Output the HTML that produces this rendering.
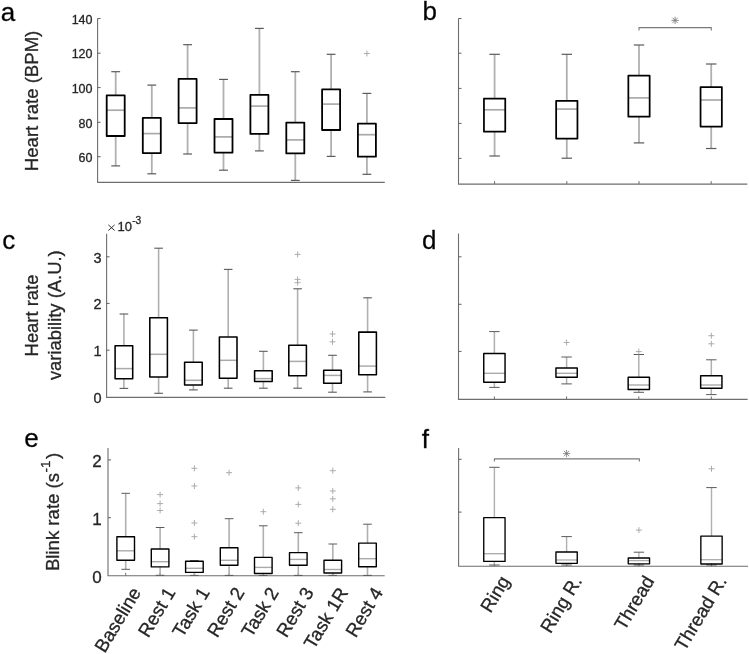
<!DOCTYPE html>
<html><head><meta charset="utf-8"><style>
html,body{margin:0;padding:0;background:#fff;}
svg{display:block;font-family:"Liberation Sans", sans-serif;will-change:transform;}
text{stroke:#262626;stroke-width:0.3px;}
</style></head><body>
<svg width="749" height="654" viewBox="0 0 749 654">
<rect width="749" height="654" fill="#fff"/>
<path d="M97.6 18.5 V182.4 H384.8" fill="none" stroke="#6e6e6e" stroke-width="1.1"/>
<path d="M97.6 18.5 H100.6" stroke="#606060" stroke-width="1"/>
<path d="M97.6 53.2 H100.6" stroke="#606060" stroke-width="1"/>
<path d="M97.6 87.6 H100.6" stroke="#606060" stroke-width="1"/>
<path d="M97.6 122.3 H100.6" stroke="#606060" stroke-width="1"/>
<path d="M97.6 156.7 H100.6" stroke="#606060" stroke-width="1"/>
<text x="92.5" y="23.75" font-size="12.5" text-anchor="end" fill="#262626">140</text>
<text x="92.5" y="58.45" font-size="12.5" text-anchor="end" fill="#262626">120</text>
<text x="92.5" y="92.85" font-size="12.5" text-anchor="end" fill="#262626">100</text>
<text x="92.5" y="127.55" font-size="12.5" text-anchor="end" fill="#262626">80</text>
<text x="92.5" y="161.95" font-size="12.5" text-anchor="end" fill="#262626">60</text>
<path d="M115.7 71.7 V95.3" stroke="#b0b0b0" stroke-width="1.8"/>
<path d="M111.29 71.7 H120.11" stroke="#5a5a5a" stroke-width="1.2"/>
<path d="M115.7 136 V165.9" stroke="#b0b0b0" stroke-width="1.8"/>
<path d="M111.29 165.9 H120.11" stroke="#5a5a5a" stroke-width="1.2"/>
<path d="M106.7 110.2 H124.7" stroke="#aaaaaa" stroke-width="1.7"/>
<rect x="106.7" y="95.3" width="18" height="40.7" fill="none" stroke="#000000" stroke-width="1.8" stroke-linejoin="round"/>
<path d="M151.8 85.1 V117.9" stroke="#b0b0b0" stroke-width="1.8"/>
<path d="M147.39 85.1 H156.21" stroke="#5a5a5a" stroke-width="1.2"/>
<path d="M151.8 153.1 V173.8" stroke="#b0b0b0" stroke-width="1.8"/>
<path d="M147.39 173.8 H156.21" stroke="#5a5a5a" stroke-width="1.2"/>
<path d="M142.8 133.6 H160.8" stroke="#aaaaaa" stroke-width="1.7"/>
<rect x="142.8" y="117.9" width="18" height="35.2" fill="none" stroke="#000000" stroke-width="1.8" stroke-linejoin="round"/>
<path d="M187.6 44.7 V78.9" stroke="#b0b0b0" stroke-width="1.8"/>
<path d="M183.19 44.7 H192.01" stroke="#5a5a5a" stroke-width="1.2"/>
<path d="M187.6 123.1 V154" stroke="#b0b0b0" stroke-width="1.8"/>
<path d="M183.19 154 H192.01" stroke="#5a5a5a" stroke-width="1.2"/>
<path d="M178.6 107.9 H196.6" stroke="#aaaaaa" stroke-width="1.7"/>
<rect x="178.6" y="78.9" width="18" height="44.2" fill="none" stroke="#000000" stroke-width="1.8" stroke-linejoin="round"/>
<path d="M223.5 79.4 V119" stroke="#b0b0b0" stroke-width="1.8"/>
<path d="M219.09 79.4 H227.91" stroke="#5a5a5a" stroke-width="1.2"/>
<path d="M223.5 152.6 V170.2" stroke="#b0b0b0" stroke-width="1.8"/>
<path d="M219.09 170.2 H227.91" stroke="#5a5a5a" stroke-width="1.2"/>
<path d="M214.5 136.9 H232.5" stroke="#aaaaaa" stroke-width="1.7"/>
<rect x="214.5" y="119" width="18" height="33.6" fill="none" stroke="#000000" stroke-width="1.8" stroke-linejoin="round"/>
<path d="M259.4 28.4 V94.9" stroke="#b0b0b0" stroke-width="1.8"/>
<path d="M254.99 28.4 H263.81" stroke="#5a5a5a" stroke-width="1.2"/>
<path d="M259.4 133.9 V150.9" stroke="#b0b0b0" stroke-width="1.8"/>
<path d="M254.99 150.9 H263.81" stroke="#5a5a5a" stroke-width="1.2"/>
<path d="M250.4 106.1 H268.4" stroke="#aaaaaa" stroke-width="1.7"/>
<rect x="250.4" y="94.9" width="18" height="39" fill="none" stroke="#000000" stroke-width="1.8" stroke-linejoin="round"/>
<path d="M295.3 71.7 V122.6" stroke="#b0b0b0" stroke-width="1.8"/>
<path d="M290.89 71.7 H299.71" stroke="#5a5a5a" stroke-width="1.2"/>
<path d="M295.3 153.4 V180.4" stroke="#b0b0b0" stroke-width="1.8"/>
<path d="M290.89 180.4 H299.71" stroke="#5a5a5a" stroke-width="1.2"/>
<path d="M286.3 139.9 H304.3" stroke="#aaaaaa" stroke-width="1.7"/>
<rect x="286.3" y="122.6" width="18" height="30.8" fill="none" stroke="#000000" stroke-width="1.8" stroke-linejoin="round"/>
<path d="M331.1 54.3 V89.3" stroke="#b0b0b0" stroke-width="1.8"/>
<path d="M326.69 54.3 H335.51" stroke="#5a5a5a" stroke-width="1.2"/>
<path d="M331.1 130 V156.4" stroke="#b0b0b0" stroke-width="1.8"/>
<path d="M326.69 156.4 H335.51" stroke="#5a5a5a" stroke-width="1.2"/>
<path d="M322.1 104.1 H340.1" stroke="#aaaaaa" stroke-width="1.7"/>
<rect x="322.1" y="89.3" width="18" height="40.7" fill="none" stroke="#000000" stroke-width="1.8" stroke-linejoin="round"/>
<path d="M366.9 93.4 V123.7" stroke="#b0b0b0" stroke-width="1.8"/>
<path d="M362.49 93.4 H371.31" stroke="#5a5a5a" stroke-width="1.2"/>
<path d="M366.9 156.7 V174.3" stroke="#b0b0b0" stroke-width="1.8"/>
<path d="M362.49 174.3 H371.31" stroke="#5a5a5a" stroke-width="1.2"/>
<path d="M357.9 134.7 H375.9" stroke="#aaaaaa" stroke-width="1.7"/>
<rect x="357.9" y="123.7" width="18" height="33" fill="none" stroke="#000000" stroke-width="1.8" stroke-linejoin="round"/>
<path d="M363.9 53.5 H369.9 M366.9 50.5 V56.5" stroke="#a4a4a4" stroke-width="0.9"/>
<path d="M458.5 18.5 V184.1 H747.3" fill="none" stroke="#6e6e6e" stroke-width="1.1"/>
<path d="M458.5 18.5 H461.5" stroke="#606060" stroke-width="1"/>
<path d="M458.5 53.2 H461.5" stroke="#606060" stroke-width="1"/>
<path d="M458.5 88.4 H461.5" stroke="#606060" stroke-width="1"/>
<path d="M458.5 123.4 H461.5" stroke="#606060" stroke-width="1"/>
<path d="M458.5 158.4 H461.5" stroke="#606060" stroke-width="1"/>
<path d="M494.6 184.1 V181.1" stroke="#6e6e6e" stroke-width="1"/>
<path d="M494.6 54.3 V98.5" stroke="#b0b0b0" stroke-width="1.8"/>
<path d="M489.38 54.3 H499.82" stroke="#5a5a5a" stroke-width="1.2"/>
<path d="M494.6 131.7 V156" stroke="#b0b0b0" stroke-width="1.8"/>
<path d="M489.38 156 H499.82" stroke="#5a5a5a" stroke-width="1.2"/>
<path d="M483.95 109.8 H505.25" stroke="#aaaaaa" stroke-width="1.7"/>
<rect x="483.95" y="98.5" width="21.3" height="33.2" fill="none" stroke="#000000" stroke-width="1.75" stroke-linejoin="round"/>
<path d="M566.8 184.1 V181.1" stroke="#6e6e6e" stroke-width="1"/>
<path d="M566.8 54.3 V100.8" stroke="#b0b0b0" stroke-width="1.8"/>
<path d="M561.58 54.3 H572.02" stroke="#5a5a5a" stroke-width="1.2"/>
<path d="M566.8 138.5 V158.2" stroke="#b0b0b0" stroke-width="1.8"/>
<path d="M561.58 158.2 H572.02" stroke="#5a5a5a" stroke-width="1.2"/>
<path d="M556.15 109.1 H577.45" stroke="#aaaaaa" stroke-width="1.7"/>
<rect x="556.15" y="100.8" width="21.3" height="37.7" fill="none" stroke="#000000" stroke-width="1.75" stroke-linejoin="round"/>
<path d="M639 184.1 V181.1" stroke="#6e6e6e" stroke-width="1"/>
<path d="M639 45 V75.5" stroke="#b0b0b0" stroke-width="1.8"/>
<path d="M633.78 45 H644.22" stroke="#5a5a5a" stroke-width="1.2"/>
<path d="M639 116.7 V142.9" stroke="#b0b0b0" stroke-width="1.8"/>
<path d="M633.78 142.9 H644.22" stroke="#5a5a5a" stroke-width="1.2"/>
<path d="M628.35 97.9 H649.65" stroke="#aaaaaa" stroke-width="1.7"/>
<rect x="628.35" y="75.5" width="21.3" height="41.2" fill="none" stroke="#000000" stroke-width="1.75" stroke-linejoin="round"/>
<path d="M711.2 184.1 V181.1" stroke="#6e6e6e" stroke-width="1"/>
<path d="M711.2 64 V87.1" stroke="#b0b0b0" stroke-width="1.8"/>
<path d="M705.98 64 H716.42" stroke="#5a5a5a" stroke-width="1.2"/>
<path d="M711.2 126.6 V148.5" stroke="#b0b0b0" stroke-width="1.8"/>
<path d="M705.98 148.5 H716.42" stroke="#5a5a5a" stroke-width="1.2"/>
<path d="M700.55 100 H721.85" stroke="#aaaaaa" stroke-width="1.7"/>
<rect x="700.55" y="87.1" width="21.3" height="39.5" fill="none" stroke="#000000" stroke-width="1.75" stroke-linejoin="round"/>
<path d="M639 30.6 V27.6 H711.3 V30.6" fill="none" stroke="#7a7a7a" stroke-width="1.1" stroke-linejoin="round"/>
<path d="M671.4 20.4 H678.8 M675.1 16.7 V24.1 M672.4 17.7 L677.8 23.1 M672.4 23.1 L677.8 17.7" stroke="#7a7a7a" stroke-width="0.85"/>
<path d="M106.6 233.7 V397.4 H385.3" fill="none" stroke="#6e6e6e" stroke-width="1.1"/>
<path d="M106.6 256.8 H109.6" stroke="#606060" stroke-width="1"/>
<path d="M106.6 303.4 H109.6" stroke="#606060" stroke-width="1"/>
<path d="M106.6 350.2 H109.6" stroke="#606060" stroke-width="1"/>
<text x="101.5" y="262.89" font-size="14.5" text-anchor="end" fill="#262626">3</text>
<text x="101.5" y="309.49" font-size="14.5" text-anchor="end" fill="#262626">2</text>
<text x="101.5" y="356.29" font-size="14.5" text-anchor="end" fill="#262626">1</text>
<text x="101.5" y="402.89" font-size="14.5" text-anchor="end" fill="#262626">0</text>
<path d="M123.9 314 V345.7" stroke="#b0b0b0" stroke-width="1.6"/>
<path d="M119.59 314 H128.21" stroke="#5a5a5a" stroke-width="1.1"/>
<path d="M123.9 378.8 V388.4" stroke="#b0b0b0" stroke-width="1.6"/>
<path d="M119.59 388.4 H128.21" stroke="#5a5a5a" stroke-width="1.1"/>
<path d="M115.1 368.6 H132.7" stroke="#aaaaaa" stroke-width="1.5"/>
<rect x="115.1" y="345.7" width="17.6" height="33.1" fill="none" stroke="#000000" stroke-width="1.55" stroke-linejoin="round"/>
<path d="M158.6 248.2 V317.8" stroke="#b0b0b0" stroke-width="1.6"/>
<path d="M154.29 248.2 H162.91" stroke="#5a5a5a" stroke-width="1.1"/>
<path d="M158.6 376.9 V393.3" stroke="#b0b0b0" stroke-width="1.6"/>
<path d="M154.29 393.3 H162.91" stroke="#5a5a5a" stroke-width="1.1"/>
<path d="M149.8 354.3 H167.4" stroke="#aaaaaa" stroke-width="1.5"/>
<rect x="149.8" y="317.8" width="17.6" height="59.1" fill="none" stroke="#000000" stroke-width="1.55" stroke-linejoin="round"/>
<path d="M193.4 330.1 V362.3" stroke="#b0b0b0" stroke-width="1.6"/>
<path d="M189.09 330.1 H197.71" stroke="#5a5a5a" stroke-width="1.1"/>
<path d="M193.4 385 V389.9" stroke="#b0b0b0" stroke-width="1.6"/>
<path d="M189.09 389.9 H197.71" stroke="#5a5a5a" stroke-width="1.1"/>
<path d="M184.6 380.3 H202.2" stroke="#aaaaaa" stroke-width="1.5"/>
<rect x="184.6" y="362.3" width="17.6" height="22.7" fill="none" stroke="#000000" stroke-width="1.55" stroke-linejoin="round"/>
<path d="M228.2 269.4 V337" stroke="#b0b0b0" stroke-width="1.6"/>
<path d="M223.89 269.4 H232.51" stroke="#5a5a5a" stroke-width="1.1"/>
<path d="M228.2 378.3 V388.2" stroke="#b0b0b0" stroke-width="1.6"/>
<path d="M223.89 388.2 H232.51" stroke="#5a5a5a" stroke-width="1.1"/>
<path d="M219.4 360.3 H237" stroke="#aaaaaa" stroke-width="1.5"/>
<rect x="219.4" y="337" width="17.6" height="41.3" fill="none" stroke="#000000" stroke-width="1.55" stroke-linejoin="round"/>
<path d="M263.4 351.3 V370.7" stroke="#b0b0b0" stroke-width="1.6"/>
<path d="M259.09 351.3 H267.71" stroke="#5a5a5a" stroke-width="1.1"/>
<path d="M263.4 381.5 V388.2" stroke="#b0b0b0" stroke-width="1.6"/>
<path d="M259.09 388.2 H267.71" stroke="#5a5a5a" stroke-width="1.1"/>
<path d="M254.6 378.6 H272.2" stroke="#aaaaaa" stroke-width="1.5"/>
<rect x="254.6" y="370.7" width="17.6" height="10.8" fill="none" stroke="#000000" stroke-width="1.55" stroke-linejoin="round"/>
<path d="M297.6 288.8 V345.2" stroke="#b0b0b0" stroke-width="1.6"/>
<path d="M293.29 288.8 H301.91" stroke="#5a5a5a" stroke-width="1.1"/>
<path d="M297.6 375.7 V388.2" stroke="#b0b0b0" stroke-width="1.6"/>
<path d="M293.29 388.2 H301.91" stroke="#5a5a5a" stroke-width="1.1"/>
<path d="M288.8 361.4 H306.4" stroke="#aaaaaa" stroke-width="1.5"/>
<rect x="288.8" y="345.2" width="17.6" height="30.5" fill="none" stroke="#000000" stroke-width="1.55" stroke-linejoin="round"/>
<path d="M294.6 254.4 H300.6 M297.6 251.4 V257.4" stroke="#a4a4a4" stroke-width="0.9"/>
<path d="M294.6 279.4 H300.6 M297.6 276.4 V282.4" stroke="#a4a4a4" stroke-width="0.9"/>
<path d="M294.6 282.7 H300.6 M297.6 279.7 V285.7" stroke="#a4a4a4" stroke-width="0.9"/>
<path d="M332.5 355.3 V370.2" stroke="#b0b0b0" stroke-width="1.6"/>
<path d="M328.19 355.3 H336.81" stroke="#5a5a5a" stroke-width="1.1"/>
<path d="M332.5 383.2 V392.2" stroke="#b0b0b0" stroke-width="1.6"/>
<path d="M328.19 392.2 H336.81" stroke="#5a5a5a" stroke-width="1.1"/>
<path d="M323.7 375.4 H341.3" stroke="#aaaaaa" stroke-width="1.5"/>
<rect x="323.7" y="370.2" width="17.6" height="13" fill="none" stroke="#000000" stroke-width="1.55" stroke-linejoin="round"/>
<path d="M329.5 334 H335.5 M332.5 331 V337" stroke="#a4a4a4" stroke-width="0.9"/>
<path d="M329.5 341.8 H335.5 M332.5 338.8 V344.8" stroke="#a4a4a4" stroke-width="0.9"/>
<path d="M367.6 297.8 V332.1" stroke="#b0b0b0" stroke-width="1.6"/>
<path d="M363.29 297.8 H371.91" stroke="#5a5a5a" stroke-width="1.1"/>
<path d="M367.6 374.8 V391.9" stroke="#b0b0b0" stroke-width="1.6"/>
<path d="M363.29 391.9 H371.91" stroke="#5a5a5a" stroke-width="1.1"/>
<path d="M358.8 366.1 H376.4" stroke="#aaaaaa" stroke-width="1.5"/>
<rect x="358.8" y="332.1" width="17.6" height="42.7" fill="none" stroke="#000000" stroke-width="1.55" stroke-linejoin="round"/>
<path d="M458.5 233.4 V399.4 H747.6" fill="none" stroke="#6e6e6e" stroke-width="1.1"/>
<path d="M458.5 256.8 H461.5" stroke="#606060" stroke-width="1"/>
<path d="M458.5 304.3 H461.5" stroke="#606060" stroke-width="1"/>
<path d="M458.5 351.4 H461.5" stroke="#606060" stroke-width="1"/>
<path d="M494.4 399.4 V396.4" stroke="#6e6e6e" stroke-width="1"/>
<path d="M494.4 331.6 V353.4" stroke="#b0b0b0" stroke-width="1.5"/>
<path d="M489.18 331.6 H499.62" stroke="#5a5a5a" stroke-width="1.0"/>
<path d="M494.4 382.3 V387.4" stroke="#b0b0b0" stroke-width="1.5"/>
<path d="M489.18 387.4 H499.62" stroke="#5a5a5a" stroke-width="1.0"/>
<path d="M483.75 373.3 H505.05" stroke="#aaaaaa" stroke-width="1.4"/>
<rect x="483.75" y="353.4" width="21.3" height="28.9" fill="none" stroke="#000000" stroke-width="1.45" stroke-linejoin="round"/>
<path d="M566.6 399.4 V396.4" stroke="#6e6e6e" stroke-width="1"/>
<path d="M566.6 357 V367.9" stroke="#b0b0b0" stroke-width="1.5"/>
<path d="M561.38 357 H571.82" stroke="#5a5a5a" stroke-width="1.0"/>
<path d="M566.6 377.2 V383.9" stroke="#b0b0b0" stroke-width="1.5"/>
<path d="M561.38 383.9 H571.82" stroke="#5a5a5a" stroke-width="1.0"/>
<path d="M555.95 373.3 H577.25" stroke="#aaaaaa" stroke-width="1.4"/>
<rect x="555.95" y="367.9" width="21.3" height="9.3" fill="none" stroke="#000000" stroke-width="1.45" stroke-linejoin="round"/>
<path d="M563.6 342.5 H569.6 M566.6 339.5 V345.5" stroke="#a4a4a4" stroke-width="0.9"/>
<path d="M638.8 399.4 V396.4" stroke="#6e6e6e" stroke-width="1"/>
<path d="M638.8 354.5 V377.2" stroke="#b0b0b0" stroke-width="1.5"/>
<path d="M633.58 354.5 H644.02" stroke="#5a5a5a" stroke-width="1.0"/>
<path d="M638.8 389.4 V392.3" stroke="#b0b0b0" stroke-width="1.5"/>
<path d="M633.58 392.3 H644.02" stroke="#5a5a5a" stroke-width="1.0"/>
<path d="M628.15 385 H649.45" stroke="#aaaaaa" stroke-width="1.4"/>
<rect x="628.15" y="377.2" width="21.3" height="12.2" fill="none" stroke="#000000" stroke-width="1.45" stroke-linejoin="round"/>
<path d="M635.8 351.6 H641.8 M638.8 348.6 V354.6" stroke="#a4a4a4" stroke-width="0.9"/>
<path d="M711.3 399.4 V396.4" stroke="#6e6e6e" stroke-width="1"/>
<path d="M711.3 359.8 V375.7" stroke="#b0b0b0" stroke-width="1.5"/>
<path d="M706.08 359.8 H716.52" stroke="#5a5a5a" stroke-width="1.0"/>
<path d="M711.3 388.2 V394.6" stroke="#b0b0b0" stroke-width="1.5"/>
<path d="M706.08 394.6 H716.52" stroke="#5a5a5a" stroke-width="1.0"/>
<path d="M700.65 385 H721.95" stroke="#aaaaaa" stroke-width="1.4"/>
<rect x="700.65" y="375.7" width="21.3" height="12.5" fill="none" stroke="#000000" stroke-width="1.45" stroke-linejoin="round"/>
<path d="M708.3 335.7 H714.3 M711.3 332.7 V338.7" stroke="#a4a4a4" stroke-width="0.9"/>
<path d="M708.3 343.8 H714.3 M711.3 340.8 V346.8" stroke="#a4a4a4" stroke-width="0.9"/>
<path d="M108 448.1 V575.8 H384.7" fill="none" stroke="#6e6e6e" stroke-width="1.1"/>
<path d="M108 459.9 H111" stroke="#606060" stroke-width="1"/>
<path d="M108 517.7 H111" stroke="#606060" stroke-width="1"/>
<text x="101.7" y="467.04" font-size="17" text-anchor="end" fill="#262626">2</text>
<text x="101.7" y="524.84" font-size="17" text-anchor="end" fill="#262626">1</text>
<text x="101.7" y="582.54" font-size="17" text-anchor="end" fill="#262626">0</text>
<path d="M125.7 575.8 V572.8" stroke="#6e6e6e" stroke-width="1"/>
<path d="M125.7 493.3 V536.7" stroke="#b0b0b0" stroke-width="1.6"/>
<path d="M121.39 493.3 H130.01" stroke="#5a5a5a" stroke-width="1.0"/>
<path d="M125.7 560.2 V569.3" stroke="#b0b0b0" stroke-width="1.6"/>
<path d="M121.39 569.3 H130.01" stroke="#5a5a5a" stroke-width="1.0"/>
<path d="M116.9 550.8 H134.5" stroke="#aaaaaa" stroke-width="1.4"/>
<rect x="116.9" y="536.7" width="17.6" height="23.5" fill="none" stroke="#000000" stroke-width="1.4" stroke-linejoin="round"/>
<path d="M160.1 575.8 V572.8" stroke="#6e6e6e" stroke-width="1"/>
<path d="M160.1 527.5 V549" stroke="#b0b0b0" stroke-width="1.6"/>
<path d="M155.79 527.5 H164.41" stroke="#5a5a5a" stroke-width="1.0"/>
<path d="M160.1 566.9 V575.3" stroke="#b0b0b0" stroke-width="1.6"/>
<path d="M155.79 575.3 H164.41" stroke="#5a5a5a" stroke-width="1.0"/>
<path d="M151.3 561.7 H168.9" stroke="#aaaaaa" stroke-width="1.4"/>
<rect x="151.3" y="549" width="17.6" height="17.9" fill="none" stroke="#000000" stroke-width="1.4" stroke-linejoin="round"/>
<path d="M157.1 494.6 H163.1 M160.1 491.6 V497.6" stroke="#a4a4a4" stroke-width="0.9"/>
<path d="M157.1 503.6 H163.1 M160.1 500.6 V506.6" stroke="#a4a4a4" stroke-width="0.9"/>
<path d="M157.1 510.5 H163.1 M160.1 507.5 V513.5" stroke="#a4a4a4" stroke-width="0.9"/>
<path d="M194.4 575.8 V572.8" stroke="#6e6e6e" stroke-width="1"/>
<path d="M194.4 560.6 V561.2" stroke="#b0b0b0" stroke-width="1.6"/>
<path d="M190.09 560.6 H198.71" stroke="#5a5a5a" stroke-width="1.0"/>
<path d="M194.4 572.4 V575.4" stroke="#b0b0b0" stroke-width="1.6"/>
<path d="M190.09 575.4 H198.71" stroke="#5a5a5a" stroke-width="1.0"/>
<path d="M185.6 568.3 H203.2" stroke="#aaaaaa" stroke-width="1.4"/>
<rect x="185.6" y="561.2" width="17.6" height="11.2" fill="none" stroke="#000000" stroke-width="1.4" stroke-linejoin="round"/>
<path d="M191.4 468.3 H197.4 M194.4 465.3 V471.3" stroke="#a4a4a4" stroke-width="0.9"/>
<path d="M191.4 486 H197.4 M194.4 483 V489" stroke="#a4a4a4" stroke-width="0.9"/>
<path d="M191.4 523 H197.4 M194.4 520 V526" stroke="#a4a4a4" stroke-width="0.9"/>
<path d="M191.4 536.7 H197.4 M194.4 533.7 V539.7" stroke="#a4a4a4" stroke-width="0.9"/>
<path d="M229.1 575.8 V572.8" stroke="#6e6e6e" stroke-width="1"/>
<path d="M229.1 518.7 V547.7" stroke="#b0b0b0" stroke-width="1.6"/>
<path d="M224.79 518.7 H233.41" stroke="#5a5a5a" stroke-width="1.0"/>
<path d="M229.1 565.2 V575.4" stroke="#b0b0b0" stroke-width="1.6"/>
<path d="M224.79 575.4 H233.41" stroke="#5a5a5a" stroke-width="1.0"/>
<path d="M220.3 560.3 H237.9" stroke="#aaaaaa" stroke-width="1.4"/>
<rect x="220.3" y="547.7" width="17.6" height="17.5" fill="none" stroke="#000000" stroke-width="1.4" stroke-linejoin="round"/>
<path d="M226.1 472.7 H232.1 M229.1 469.7 V475.7" stroke="#a4a4a4" stroke-width="0.9"/>
<path d="M263.3 575.8 V572.8" stroke="#6e6e6e" stroke-width="1"/>
<path d="M263.3 525.8 V557.4" stroke="#b0b0b0" stroke-width="1.6"/>
<path d="M258.99 525.8 H267.61" stroke="#5a5a5a" stroke-width="1.0"/>
<path d="M263.3 573.5 V575.5" stroke="#b0b0b0" stroke-width="1.6"/>
<path d="M258.99 575.5 H267.61" stroke="#5a5a5a" stroke-width="1.0"/>
<path d="M254.5 567.4 H272.1" stroke="#aaaaaa" stroke-width="1.4"/>
<rect x="254.5" y="557.4" width="17.6" height="16.1" fill="none" stroke="#000000" stroke-width="1.4" stroke-linejoin="round"/>
<path d="M260.3 511.7 H266.3 M263.3 508.7 V514.7" stroke="#a4a4a4" stroke-width="0.9"/>
<path d="M298.3 575.8 V572.8" stroke="#6e6e6e" stroke-width="1"/>
<path d="M298.3 532.7 V552.6" stroke="#b0b0b0" stroke-width="1.6"/>
<path d="M293.99 532.7 H302.61" stroke="#5a5a5a" stroke-width="1.0"/>
<path d="M298.3 565.2 V575.4" stroke="#b0b0b0" stroke-width="1.6"/>
<path d="M293.99 575.4 H302.61" stroke="#5a5a5a" stroke-width="1.0"/>
<path d="M289.5 559.4 H307.1" stroke="#aaaaaa" stroke-width="1.4"/>
<rect x="289.5" y="552.6" width="17.6" height="12.6" fill="none" stroke="#000000" stroke-width="1.4" stroke-linejoin="round"/>
<path d="M295.3 487.9 H301.3 M298.3 484.9 V490.9" stroke="#a4a4a4" stroke-width="0.9"/>
<path d="M295.3 504.4 H301.3 M298.3 501.4 V507.4" stroke="#a4a4a4" stroke-width="0.9"/>
<path d="M295.3 523.2 H301.3 M298.3 520.2 V526.2" stroke="#a4a4a4" stroke-width="0.9"/>
<path d="M332.8 575.8 V572.8" stroke="#6e6e6e" stroke-width="1"/>
<path d="M332.8 544 V560.3" stroke="#b0b0b0" stroke-width="1.6"/>
<path d="M328.49 544 H337.11" stroke="#5a5a5a" stroke-width="1.0"/>
<path d="M332.8 573 V575.4" stroke="#b0b0b0" stroke-width="1.6"/>
<path d="M328.49 575.4 H337.11" stroke="#5a5a5a" stroke-width="1.0"/>
<path d="M324 569.5 H341.6" stroke="#aaaaaa" stroke-width="1.4"/>
<rect x="324" y="560.3" width="17.6" height="12.7" fill="none" stroke="#000000" stroke-width="1.4" stroke-linejoin="round"/>
<path d="M329.8 470.7 H335.8 M332.8 467.7 V473.7" stroke="#a4a4a4" stroke-width="0.9"/>
<path d="M329.8 491 H335.8 M332.8 488 V494" stroke="#a4a4a4" stroke-width="0.9"/>
<path d="M329.8 498.8 H335.8 M332.8 495.8 V501.8" stroke="#a4a4a4" stroke-width="0.9"/>
<path d="M329.8 509.3 H335.8 M332.8 506.3 V512.3" stroke="#a4a4a4" stroke-width="0.9"/>
<path d="M367.5 575.8 V572.8" stroke="#6e6e6e" stroke-width="1"/>
<path d="M367.5 524.2 V543.1" stroke="#b0b0b0" stroke-width="1.6"/>
<path d="M363.19 524.2 H371.81" stroke="#5a5a5a" stroke-width="1.0"/>
<path d="M367.5 566.7 V575.4" stroke="#b0b0b0" stroke-width="1.6"/>
<path d="M363.19 575.4 H371.81" stroke="#5a5a5a" stroke-width="1.0"/>
<path d="M358.7 558.7 H376.3" stroke="#aaaaaa" stroke-width="1.4"/>
<rect x="358.7" y="543.1" width="17.6" height="23.6" fill="none" stroke="#000000" stroke-width="1.4" stroke-linejoin="round"/>
<text transform="translate(141.7 592.3) rotate(-59)" font-size="18.7" text-anchor="end" fill="#262626">Baseline</text>
<text transform="translate(176.1 592.3) rotate(-59)" font-size="18.7" text-anchor="end" fill="#262626">Rest 1</text>
<text transform="translate(210.4 592.3) rotate(-59)" font-size="18.7" text-anchor="end" fill="#262626">Task 1</text>
<text transform="translate(245.1 592.3) rotate(-59)" font-size="18.7" text-anchor="end" fill="#262626">Rest 2</text>
<text transform="translate(279.3 592.3) rotate(-59)" font-size="18.7" text-anchor="end" fill="#262626">Task 2</text>
<text transform="translate(314.3 592.3) rotate(-59)" font-size="18.7" text-anchor="end" fill="#262626">Rest 3</text>
<text transform="translate(348.8 592.3) rotate(-59)" font-size="18.7" text-anchor="end" fill="#262626">Task 1R</text>
<text transform="translate(383.5 592.3) rotate(-59)" font-size="18.7" text-anchor="end" fill="#262626">Rest 4</text>
<path d="M458.6 448 V566.3 H748" fill="none" stroke="#6e6e6e" stroke-width="1.1"/>
<path d="M458.6 459.3 H461.6" stroke="#606060" stroke-width="1"/>
<path d="M458.6 512.1 H461.6" stroke="#606060" stroke-width="1"/>
<path d="M494.4 566.3 V563.3" stroke="#6e6e6e" stroke-width="1"/>
<path d="M494.4 467.3 V517.6" stroke="#b0b0b0" stroke-width="1.4"/>
<path d="M489.18 467.3 H499.62" stroke="#5a5a5a" stroke-width="1.0"/>
<path d="M494.4 561.4 V565" stroke="#b0b0b0" stroke-width="1.4"/>
<path d="M489.18 565 H499.62" stroke="#5a5a5a" stroke-width="1.0"/>
<path d="M483.75 553.7 H505.05" stroke="#aaaaaa" stroke-width="1.3"/>
<rect x="483.75" y="517.6" width="21.3" height="43.8" fill="none" stroke="#000000" stroke-width="1.35" stroke-linejoin="round"/>
<path d="M566.6 566.3 V563.3" stroke="#6e6e6e" stroke-width="1"/>
<path d="M566.6 536.6 V552" stroke="#b0b0b0" stroke-width="1.4"/>
<path d="M561.38 536.6 H571.82" stroke="#5a5a5a" stroke-width="1.0"/>
<path d="M566.6 563.3 V565" stroke="#b0b0b0" stroke-width="1.4"/>
<path d="M561.38 565 H571.82" stroke="#5a5a5a" stroke-width="1.0"/>
<path d="M555.95 560 H577.25" stroke="#aaaaaa" stroke-width="1.3"/>
<rect x="555.95" y="552" width="21.3" height="11.3" fill="none" stroke="#000000" stroke-width="1.35" stroke-linejoin="round"/>
<path d="M638.9 566.3 V563.3" stroke="#6e6e6e" stroke-width="1"/>
<path d="M638.9 552.2 V558" stroke="#b0b0b0" stroke-width="1.4"/>
<path d="M633.68 552.2 H644.12" stroke="#5a5a5a" stroke-width="1.0"/>
<path d="M638.9 563.8 V565" stroke="#b0b0b0" stroke-width="1.4"/>
<path d="M633.68 565 H644.12" stroke="#5a5a5a" stroke-width="1.0"/>
<path d="M628.25 560.6 H649.55" stroke="#aaaaaa" stroke-width="1.3"/>
<rect x="628.25" y="558" width="21.3" height="5.8" fill="none" stroke="#000000" stroke-width="1.35" stroke-linejoin="round"/>
<path d="M635.9 530.1 H641.9 M638.9 527.1 V533.1" stroke="#a4a4a4" stroke-width="0.9"/>
<path d="M711.5 566.3 V563.3" stroke="#6e6e6e" stroke-width="1"/>
<path d="M711.5 487.6 V536.1" stroke="#b0b0b0" stroke-width="1.4"/>
<path d="M706.28 487.6 H716.72" stroke="#5a5a5a" stroke-width="1.0"/>
<path d="M711.5 564 V565" stroke="#b0b0b0" stroke-width="1.4"/>
<path d="M706.28 565 H716.72" stroke="#5a5a5a" stroke-width="1.0"/>
<path d="M700.85 559.7 H722.15" stroke="#aaaaaa" stroke-width="1.3"/>
<rect x="700.85" y="536.1" width="21.3" height="27.9" fill="none" stroke="#000000" stroke-width="1.35" stroke-linejoin="round"/>
<path d="M708.5 468.8 H714.5 M711.5 465.8 V471.8" stroke="#a4a4a4" stroke-width="0.9"/>
<path d="M494.4 461.6 V458.9 H639.4 V461.6" fill="none" stroke="#7a7a7a" stroke-width="1.1" stroke-linejoin="round"/>
<path d="M562.9 453.6 H570.3 M566.6 449.9 V457.3 M563.9 450.9 L569.3 456.3 M563.9 456.3 L569.3 450.9" stroke="#7a7a7a" stroke-width="0.85"/>
<text transform="translate(510.4 580.8) rotate(-59)" font-size="18.7" text-anchor="end" fill="#262626">Ring</text>
<text transform="translate(582.6 580.8) rotate(-59)" font-size="18.7" text-anchor="end" fill="#262626">Ring R.</text>
<text transform="translate(654.9 580.8) rotate(-59)" font-size="18.7" text-anchor="end" fill="#262626">Thread</text>
<text transform="translate(727.5 580.8) rotate(-59)" font-size="18.7" text-anchor="end" fill="#262626">Thread R.</text>
<text x="0.8" y="20.6" font-size="26" fill="#000">a</text>
<text x="422.4" y="20.4" font-size="26" fill="#000">b</text>
<text x="2.2" y="248.6" font-size="26" fill="#000">c</text>
<text x="422" y="248.6" font-size="26" fill="#000">d</text>
<text x="24.3" y="447.4" font-size="26" fill="#000">e</text>
<text x="421.8" y="447.6" font-size="26" fill="#000">f</text>
<text transform="translate(38.3 171.2) rotate(-90)" font-size="18.6" fill="#262626">Heart rate (BPM)</text>
<text transform="translate(38.0 356.4) rotate(-90)" font-size="18.4" fill="#262626">Heart rate</text>
<text transform="translate(60.9 380.1) rotate(-90)" font-size="18.4" fill="#262626">variability (A.U.)</text>
<text transform="translate(59.4 571.1) rotate(-90)" font-size="18.6" fill="#262626">Blink rate (s<tspan dy="-9.5" dx="0.5" font-size="13.5">-1</tspan><tspan dy="9.5" dx="1.5">)</tspan></text>
<path d="M108.4 224.9 L114.6 230.5 M108.4 230.5 L114.6 224.9" stroke="#262626" stroke-width="0.95"/>
<text x="117.6" y="230.8" font-size="13" fill="#262626">10</text>
<text x="132.2" y="224.2" font-size="10.2" fill="#262626">-3</text>
</svg>
</body></html>
